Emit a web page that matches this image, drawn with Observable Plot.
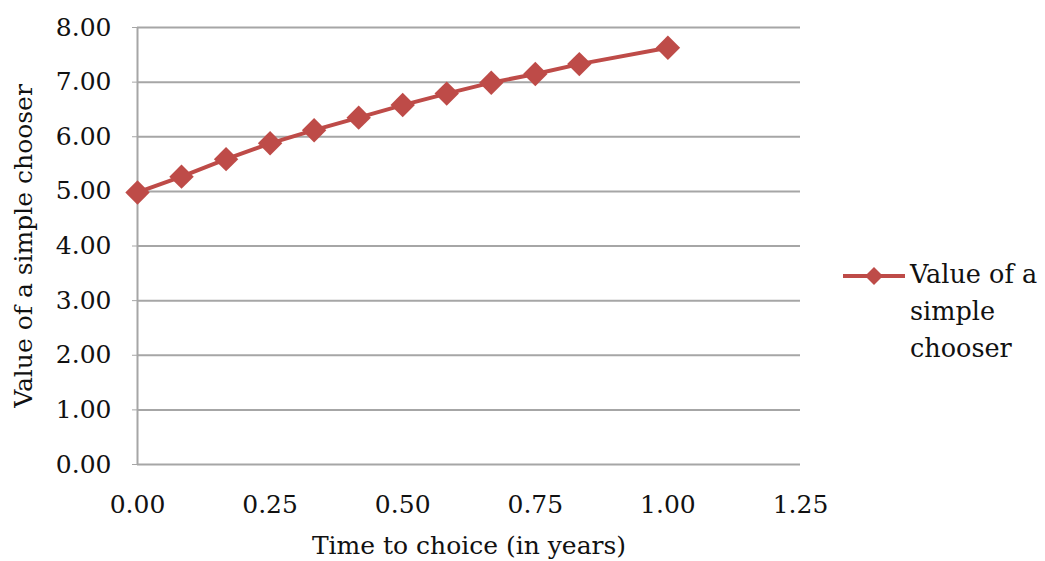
<!DOCTYPE html>
<html>
<head>
<meta charset="utf-8">
<script src="https://cdn.jsdelivr.net/npm/d3@7"></script>
<script src="https://cdn.jsdelivr.net/npm/@observablehq/plot@0.6"></script>
<style>
  html, body { margin: 0; padding: 0; background: #fff; }
  #wrap { position: relative; width: 1045px; height: 561px; font-family: "DejaVu Serif", serif; color: #111; }
  #legend { position: absolute; left: 843px; top: 256px; display: flex; align-items: flex-start; }
  #legend .txt { font-size: 25.5px; line-height: 37px; margin-left: 5px; width: 150px; }
</style>
</head>
<body>
<div id="wrap">
  <div id="chart"></div>
  <div id="legend">
    <svg width="62" height="37"><line x1="0" x2="62" y1="20" y2="20" stroke="#be4b48" stroke-width="4"/><path d="M31,11 L40,20 L31,29 L22,20 Z" fill="#be4b48"/></svg>
    <div class="txt">Value of a<br>simple<br>chooser</div>
  </div>
</div>
<script>
const seriesName = "Value of a simple chooser";
const timeYears = [0, 0.083, 0.167, 0.25, 0.333, 0.417, 0.5, 0.583, 0.667, 0.75, 0.833, 1.0];
const chooserValue = [4.98, 5.27, 5.59, 5.88, 6.12, 6.35, 6.58, 6.79, 6.99, 7.15, 7.33, 7.63];
const xTicks = [0, 0.25, 0.5, 0.75, 1.0, 1.25];
const yTicks = [0, 1, 2, 3, 4, 5, 6, 7, 8];

const data = timeYears.map((t, i) => ({t, v: chooserValue[i]}));
const red = "#be4b48";
const grid = "#a6a6a6";

const chart = Plot.plot({
  width: 1045,
  height: 561,
  marginLeft: 137,
  marginRight: 245,
  marginTop: 27,
  marginBottom: 97,
  style: {fontFamily: "DejaVu Serif", fontSize: "25px", color: "#111", background: "#fff"},
  x: {domain: [0, 1.25]},
  y: {domain: [0, 8]},
  marks: [
    Plot.ruleY(yTicks.slice(1), {stroke: grid, strokeWidth: 2}),
    Plot.ruleX([0], {stroke: grid, strokeWidth: 2}),
    Plot.ruleY([0], {stroke: grid, strokeWidth: 2}),
    Plot.axisY({ticks: yTicks, tickFormat: d3.format(".2f"), tickSize: 5, tickPadding: 21, stroke: grid,
      label: seriesName, labelAnchor: "center", labelArrow: false, labelOffset: 123}),
    Plot.axisX({ticks: xTicks, tickFormat: d3.format(".2f"), tickSize: 0, tickPadding: 31,
      label: "Time to choice (in years)", labelAnchor: "center", labelArrow: false, labelOffset: 89}),
    Plot.line(data, {x: "t", y: "v", stroke: red, strokeWidth: 4}),
    Plot.dot(data, {x: "t", y: "v", symbol: "diamond2", r: 11, fill: red, stroke: "none"})
  ]
});
document.getElementById("chart").appendChild(chart);
</script>
</body>
</html>
